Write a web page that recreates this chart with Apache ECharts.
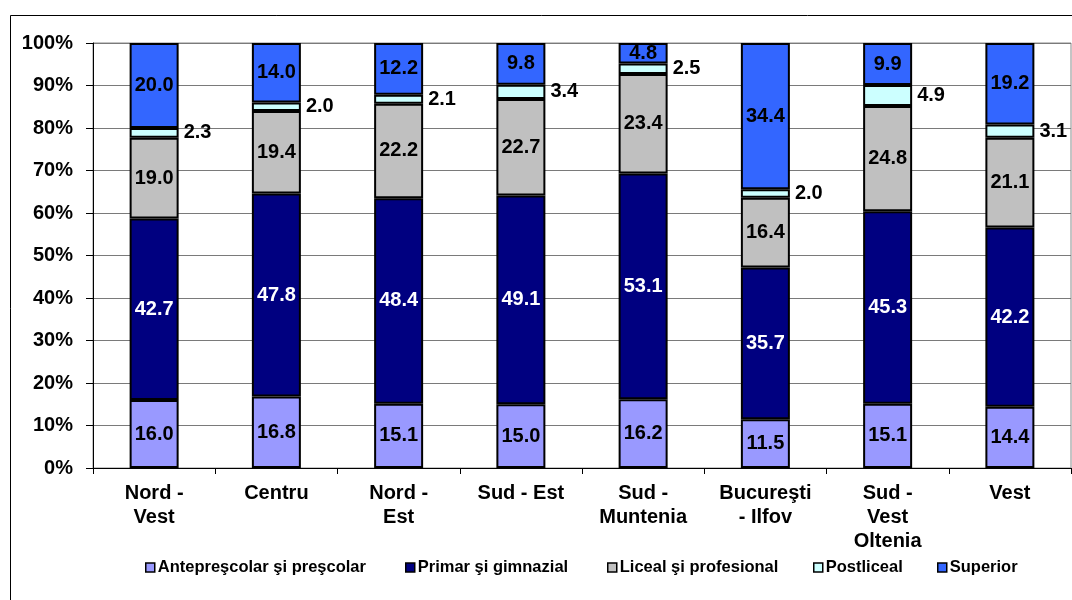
<!DOCTYPE html>
<html><head><meta charset="utf-8">
<script src="https://cdn.jsdelivr.net/npm/echarts@6/dist/echarts.min.js"></script>
<style>html,body{margin:0;padding:0;background:#fff}#c{width:1072px;height:600px}</style>
</head><body><div id="c"></div>
<script>
const categories = ["Nord -\nVest","Centru","Nord -\nEst","Sud - Est","Sud -\nMuntenia","Bucureşti\n- Ilfov","Sud -\nVest\nOltenia","Vest"];
const seriesNames = ["Antepreşcolar şi preşcolar","Primar şi gimnazial","Liceal şi profesional","Postliceal","Superior"];
const antepre = [16.0,16.8,15.1,15.0,16.2,11.5,15.1,14.4];
const primar = [42.7,47.8,48.4,49.1,53.1,35.7,45.3,42.2];
const liceal = [19.0,19.4,22.2,22.7,23.4,16.4,24.8,21.1];
const postliceal = [2.3,2.0,2.1,3.4,2.5,2.0,4.9,3.1];
const superior = [20.0,14.0,12.2,9.8,4.8,34.4,9.9,19.2];
const yTicks = [0,10,20,30,40,50,60,70,80,90,100];

const FONT = '"Liberation Sans", Arial, sans-serif';
const fmt = p => p.value.toFixed(1);
function ser(name, data, color, labelColor, pos) {
  return {
    name, type: 'bar', stack: 'a', data, barWidth: 49,
    itemStyle: {color, borderColor: '#000', borderWidth: 2},
    label: {show: true, position: pos || 'inside', formatter: fmt, color: labelColor,
      fontFamily: FONT, fontWeight: 'bold', fontSize: 20, distance: 5}
  };
}
const legendLefts = [145, 405, 607, 813, 937];
const legends = seriesNames.map((n, i) => ({
  data: [n], left: legendLefts[i], top: 559, padding: 0,
  itemWidth: 9, itemHeight: 9, icon: 'rect',
  textStyle: {fontFamily: FONT, fontWeight: 'bold', fontSize: 16.5, color: '#000', padding: [0,0,0,-2]},
  itemStyle: {borderColor: '#000', borderWidth: 1.5}
}));
const chart = echarts.init(document.getElementById('c'), null, {renderer: 'canvas'});
chart.setOption({
  animation: false,
  backgroundColor: '#fff',
  graphic: [{type: 'rect', shape: {x: 10.5, y: 15.5, width: 1080, height: 600}, style: {fill: 'none', stroke: '#000', lineWidth: 1}, z: -1}],
  grid: {left: 93, right: 1, top: 43, bottom: 132, show: true, borderColor: '#8a8a8a', borderWidth: 1},
  legend: legends,
  xAxis: {
    type: 'category', data: categories,
    axisLine: {lineStyle: {color: '#000', width: 1}},
    axisTick: {show: true, length: 6, lineStyle: {color: '#000'}},
    axisLabel: {interval: 0, margin: 13, fontFamily: FONT, fontWeight: 'bold', fontSize: 20, color: '#000', lineHeight: 24}
  },
  yAxis: {
    type: 'value', min: 0, max: 100, interval: 10,
    axisLine: {show: true, lineStyle: {color: '#000'}},
    axisTick: {show: true, length: 7, lineStyle: {color: '#000'}},
    axisLabel: {formatter: v => yTicks.includes(v) ? v + '%' : '', margin: 20, fontFamily: FONT, fontWeight: 'bold', fontSize: 20, color: '#000'},
    splitLine: {lineStyle: {color: '#7a7a7a', width: 1}}
  },
  series: [
    ser(seriesNames[0], antepre, '#9999ff', '#000'),
    ser(seriesNames[1], primar, '#000080', '#fff'),
    ser(seriesNames[2], liceal, '#c0c0c0', '#000'),
    ser(seriesNames[3], postliceal, '#ccffff', '#000', 'right'),
    ser(seriesNames[4], superior, '#3366ff', '#000')
  ]
});
</script></body></html>
